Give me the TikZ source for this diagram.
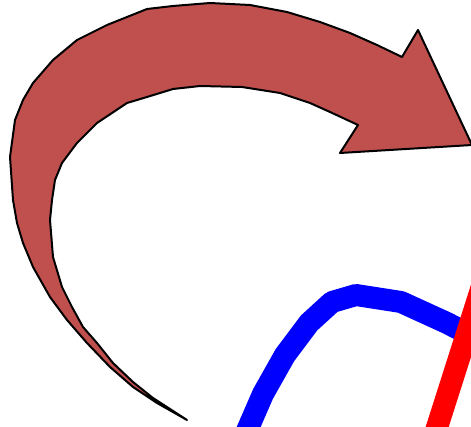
\documentclass[tikz,border=0pt]{standalone}
\definecolor{flecha}{RGB}{192,80,77}
\begin{document}
\begin{tikzpicture}[x=1pt,y=-1pt]
    \useasboundingbox (0,0) rectangle (471,427);
    \clip (0,0) rectangle (471,427);
    % Flecha curva
    \draw[line width=2pt, fill=flecha, line join=round]
        (187,420) -- (157,403) -- (133,387) -- (110,367) -- (87,343) -- (67,320)
        -- (50,297) -- (33,267) -- (23,243) -- (17,223) -- (13,200) -- (10,157)
        -- (15,120) -- (23,100) -- (33,83) -- (53,60) -- (77,40) -- (107,25)
        -- (147,9) -- (173,6) -- (210,3) -- (250,5) -- (287,12) -- (320,22)
        -- (350,33) -- (377,45) -- (402,57)
        -- (418,30) -- (472,145) -- (340,153) -- (358,125)
        -- (330,112) -- (310,103) -- (280,93) -- (242,87) -- (200,86) -- (173,89)
        -- (147,97) -- (127,103) -- (97,123) -- (77,143) -- (62,163) -- (55,180)
        -- (52,200) -- (50,220) -- (53,257) -- (62,287) -- (72,307) -- (83,327)
        -- (97,343) -- (113,363) -- (133,382) -- (153,398) -- cycle;
    % Línea azul
    \draw[line width=22pt, blue, line join=round]
        (243,440) -- (263,394) -- (285,355) -- (309,323) -- (332,302)
        -- (356,295) -- (401,302) -- (447,323) -- (480,340);
    % Línea roja
    \draw[line width=22pt, red] (433,440) -- (484,280);
\end{tikzpicture}
\end{document}
